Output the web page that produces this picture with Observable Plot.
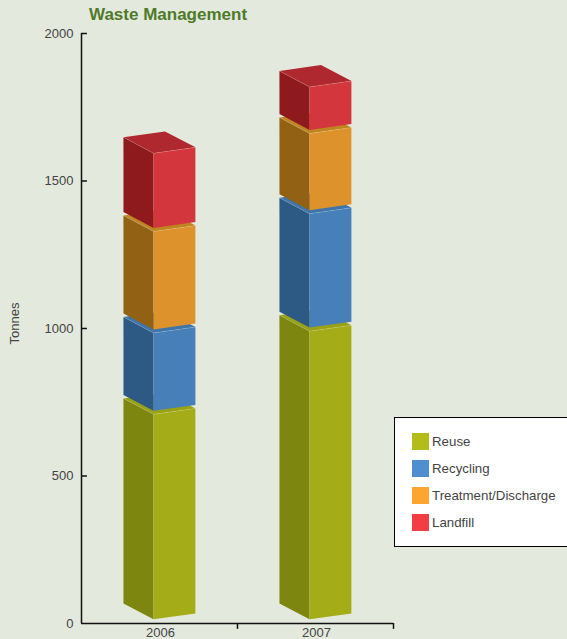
<!DOCTYPE html>
<html>
<head>
<meta charset="utf-8">
<script src="https://cdn.jsdelivr.net/npm/d3@7"></script>
<script src="https://cdn.jsdelivr.net/npm/@observablehq/plot@0.6"></script>
<style>
  html, body { margin: 0; padding: 0; background: #e3e9dd; width: 567px; height: 639px; overflow: hidden; }
  #wrap { position: relative; width: 567px; height: 639px; font-family: "Liberation Sans", Arial, sans-serif; }
  #title { position: absolute; left: 89px; top: 6px; font-size: 17px; font-weight: bold; color: #4f7a28; line-height: 18px; }
  #legend { position: absolute; left: 394px; top: 417px; width: 173px; height: 130px; box-sizing: border-box; background: #fff; border: 1px solid #000; border-right: none; }
  .item { position: absolute; left: 17px; height: 17px; display: flex; align-items: center; font-size: 13.3px; color: #444; white-space: nowrap; }
  .sw { width: 17px; height: 17px; margin-right: 3px; flex: none; }
</style>
</head>
<body>
<div id="wrap">
  <div id="title">Waste Management</div>
  <div id="chart"></div>
  <div id="legend"></div>
</div>
<script>
const years = ["2006", "2007"];
const series = ["Reuse", "Recycling", "Treatment/Discharge", "Landfill"];
const reuse = [695, 977];
const recycling = [264, 386];
const treatment = [332, 260];
const landfill = [253, 146];
const yTicks = [0, 500, 1000, 1500, 2000];
const legendColors = ["#b3bc19", "#4f8fcf", "#fda52f", "#f23d42"];
const frontColors = ["#a4ad18", "#4780b8", "#de922b", "#d3363c"];
const sideColors = ["#7d860e", "#2d5a85", "#936114", "#8e1a1e"];
const topColors = ["#98a214", "#3f75a8", "#bf851f", "#b0282f"];

// Box shape in scale units: x in category slots, y in tonnes
const xLeft = 0.269, xFront = 0.4615, xRight = 0.7308, xBack = 0.535;
const riseLeft = 54, riseRight = 20, riseBack = 74, floorRise = 14, gap = 12;

const values = [reuse, recycling, treatment, landfill];
const marks = [];

function face(points, fill, extra = {}) {
  marks.push(Plot.line(points, {x: "x", y: "y", fill, stroke: "none", curve: "linear", ...extra}));
}
function edge(points, stroke, strokeWidth, strokeOpacity) {
  marks.push(Plot.line(points, {x: "x", y: "y", stroke, strokeWidth, strokeOpacity, curve: "linear"}));
}

years.forEach((year, slot) => {
  let base = floorRise;
  values.forEach((vals, s) => {
    const top = base + vals[slot];
    const p = (x, y) => ({x: slot + x, y});
    // top face
    face([p(xLeft, top + riseLeft), p(xBack, top + riseBack), p(xRight, top + riseRight), p(xFront, top)], topColors[s]);
    // side face
    face([p(xLeft, base + riseLeft), p(xLeft, top + riseLeft), p(xFront, top), p(xFront, base)], sideColors[s]);
    // front face
    face([p(xFront, base), p(xFront, top), p(xRight, top + riseRight), p(xRight, base + riseRight)], frontColors[s]);
    // light edges
    edge([p(xLeft, top + riseLeft), p(xFront, top), p(xRight, top + riseRight)], "#ffffff", 0.8, 0.18);
    edge([p(xRight, top + riseRight), p(xRight, base + riseRight)], "#ffffff", 0.8, 0.2);
    base = top + gap;
  });
});

const plot = Plot.plot({
  width: 567,
  height: 639,
  marginLeft: 81,
  marginRight: 174,
  marginTop: 33,
  marginBottom: 16,
  style: {background: "transparent", fontFamily: "'Liberation Sans', Arial, sans-serif", fontSize: "13px", color: "#444", overflow: "visible"},
  x: {domain: [0, 2], range: [81, 393]},
  y: {domain: [0, 2000], range: [623, 33]},
  marks: [
    ...marks,
    Plot.axisY({ticks: yTicks, tickSize: 0, tickPadding: 8, tickFormat: d => String(d), label: null, fontSize: 13, fill: "#444"}),
    Plot.text(["Tonnes"], {frameAnchor: "middle", rotate: -90, dx: -223, dy: -5, fontSize: 13, fill: "#444"}),
    Plot.axisX({ticks: [0.5, 1.5], tickSize: 0, tickPadding: 4, tickFormat: d => years[Math.floor(d)], label: null, fontSize: 13, fill: "#444", dx: 1}),
    Plot.ruleY(yTicks.slice(1), {y: d => d, x1: 0, x2: 0.038, stroke: "#111", strokeWidth: 1.5}),
    Plot.ruleX([1, 2], {x: d => d, y1: 0, y2: -20, stroke: "#111", strokeWidth: 1.5}),
    Plot.ruleX([0], {stroke: "#111", strokeWidth: 1.5}),
    Plot.ruleY([0], {stroke: "#111", strokeWidth: 1.5})
  ]
});
document.getElementById("chart").appendChild(plot);

const legend = document.getElementById("legend");
series.forEach((name, i) => {
  const item = document.createElement("div");
  item.className = "item";
  item.style.top = (15 + i * 27) + "px";
  const sw = document.createElement("span");
  sw.className = "sw";
  sw.style.background = legendColors[i];
  item.appendChild(sw);
  item.appendChild(document.createTextNode(name));
  legend.appendChild(item);
});
</script>
</body>
</html>
